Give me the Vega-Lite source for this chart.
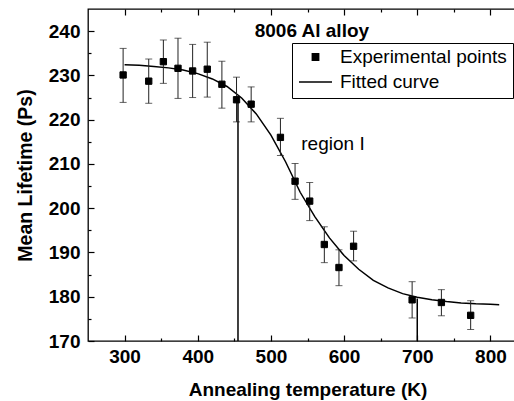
{
  "$schema": "https://vega.github.io/schema/vega-lite/v6.json",
  "width": 439,
  "height": 332,
  "autosize": {"type": "none"},
  "padding": {"left": 88, "top": 9, "right": 0, "bottom": 60},
  "background": "white",
  "config": {
    "font": "Liberation Sans",
    "view": {"stroke": "black", "strokeWidth": 1.3},
    "axis": {"grid": false, "domain": false, "tickColor": "#000000", "labelColor": "black", "titleColor": "black", "labelFont": "Liberation Sans", "titleFont": "Liberation Sans"}
  },
  "datasets": {
    "points": [
      {"T": 298, "tau": 230.1, "lo": 223.9, "hi": 236.1, "series": "Experimental points"},
      {"T": 333, "tau": 228.7, "lo": 223.7, "hi": 233.7, "series": "Experimental points"},
      {"T": 353, "tau": 233.1, "lo": 228.2, "hi": 238.0, "series": "Experimental points"},
      {"T": 373, "tau": 231.6, "lo": 224.8, "hi": 238.4, "series": "Experimental points"},
      {"T": 393, "tau": 231.0, "lo": 225.0, "hi": 237.0, "series": "Experimental points"},
      {"T": 413, "tau": 231.4, "lo": 225.1, "hi": 237.5, "series": "Experimental points"},
      {"T": 433, "tau": 228.0, "lo": 222.6, "hi": 233.2, "series": "Experimental points"},
      {"T": 453, "tau": 224.5, "lo": 219.5, "hi": 229.6, "series": "Experimental points"},
      {"T": 473, "tau": 223.5, "lo": 219.5, "hi": 227.4, "series": "Experimental points"},
      {"T": 513, "tau": 216.0, "lo": 211.9, "hi": 220.3, "series": "Experimental points"},
      {"T": 533, "tau": 206.1, "lo": 202.0, "hi": 210.1, "series": "Experimental points"},
      {"T": 553, "tau": 201.6, "lo": 197.2, "hi": 205.8, "series": "Experimental points"},
      {"T": 573, "tau": 191.8, "lo": 187.7, "hi": 195.8, "series": "Experimental points"},
      {"T": 593, "tau": 186.6, "lo": 182.5, "hi": 190.6, "series": "Experimental points"},
      {"T": 613, "tau": 191.4, "lo": 188.1, "hi": 194.8, "series": "Experimental points"},
      {"T": 693, "tau": 179.3, "lo": 175.2, "hi": 183.4, "series": "Experimental points"},
      {"T": 733, "tau": 178.7, "lo": 175.7, "hi": 181.6, "series": "Experimental points"},
      {"T": 773, "tau": 175.8, "lo": 172.6, "hi": 179.1, "series": "Experimental points"}
    ],
    "curve": [
      {"T": 300, "tau": 232.4}, {"T": 320, "tau": 232.3}, {"T": 340, "tau": 232.0},
      {"T": 360, "tau": 231.7}, {"T": 380, "tau": 231.2}, {"T": 400, "tau": 230.4},
      {"T": 420, "tau": 229.2}, {"T": 440, "tau": 227.5}, {"T": 460, "tau": 224.9},
      {"T": 480, "tau": 221.3}, {"T": 500, "tau": 216.5}, {"T": 520, "tau": 210.5},
      {"T": 540, "tau": 203.6}, {"T": 560, "tau": 198.1}, {"T": 580, "tau": 193.3},
      {"T": 600, "tau": 189.3}, {"T": 620, "tau": 186.2}, {"T": 640, "tau": 183.7},
      {"T": 660, "tau": 182.0}, {"T": 680, "tau": 180.7}, {"T": 700, "tau": 179.9},
      {"T": 720, "tau": 179.3}, {"T": 740, "tau": 178.9}, {"T": 760, "tau": 178.6},
      {"T": 780, "tau": 178.4}, {"T": 800, "tau": 178.3}, {"T": 812, "tau": 178.2}
    ],
    "marks": [
      {"T": 455, "y1": 170, "y2": 224.8},
      {"T": 700, "y1": 170, "y2": 179.6}
    ],
    "notes": [
      {"T": 556, "tau": 240, "label": "8006 Al alloy", "kind": "title"},
      {"T": 541.5, "tau": 214.5, "label": "region I", "kind": "region"}
    ]
  },
  "resolve": {"axis": {"x": "independent", "y": "independent"}},
  "layer": [
    {
      "data": {"name": "curve"},
      "mark": {"type": "line", "color": "black", "strokeWidth": 1.5},
      "encoding": {
        "x": {"field": "T", "type": "quantitative", "scale": {"domain": [250, 850], "nice": false, "zero": false},
          "axis": {"orient": "bottom", "offset": -6, "values": [300, 400, 500, 600, 700, 800], "ticks": true, "tickSize": 6, "tickWidth": 1.2, "labelPadding": 6, "labelFontSize": 19, "labelFontWeight": "bold", "title": "Annealing temperature (K)", "titleFontSize": 19, "titleFontWeight": "bold", "titlePadding": 14}},
        "y": {"field": "tau", "type": "quantitative", "scale": {"domain": [170, 245], "nice": false, "zero": false},
          "axis": {"orient": "left", "offset": -6, "values": [170, 180, 190, 200, 210, 220, 230, 240], "ticks": true, "tickSize": 6, "tickWidth": 1.2, "labelPadding": 8, "labelFontSize": 19, "labelFontWeight": "bold", "title": "Mean Lifetime (Ps)", "titleFontSize": 19.5, "titleFontWeight": "bold", "titlePadding": 13}}
      }
    },
    {
      "data": {"name": "points"},
      "mark": {"type": "rule", "color": "#222", "strokeWidth": 1},
      "encoding": {
        "x": {"field": "T", "type": "quantitative", "axis": {"orient": "bottom", "offset": -3, "values": [350, 450, 550, 650, 750], "ticks": true, "tickSize": 3, "tickWidth": 1.2, "labels": false, "title": null}},
        "y": {"field": "lo", "type": "quantitative", "axis": {"orient": "left", "offset": -3, "values": [175, 185, 195, 205, 215, 225, 235], "ticks": true, "tickSize": 3, "tickWidth": 1.2, "labels": false, "title": null}},
        "y2": {"field": "hi"}
      }
    },
    {
      "data": {"name": "points"},
      "mark": {"type": "tick", "orient": "horizontal", "color": "#222", "size": 7, "thickness": 1},
      "encoding": {
        "x": {"field": "T", "type": "quantitative", "axis": {"orient": "top", "offset": -6, "values": [300, 400, 500, 600, 700, 800], "ticks": true, "tickSize": 6, "tickWidth": 1.2, "labels": false, "title": null}},
        "y": {"field": "lo", "type": "quantitative", "axis": null}
      }
    },
    {
      "data": {"name": "points"},
      "mark": {"type": "tick", "orient": "horizontal", "color": "#222", "size": 7, "thickness": 1},
      "encoding": {
        "x": {"field": "T", "type": "quantitative", "axis": {"orient": "top", "offset": -3, "values": [350, 450, 550, 650, 750], "ticks": true, "tickSize": 3, "tickWidth": 1.2, "labels": false, "title": null}},
        "y": {"field": "hi", "type": "quantitative", "axis": null}
      }
    },
    {
      "data": {"name": "marks"},
      "mark": {"type": "rule", "color": "black", "strokeWidth": 1.5},
      "encoding": {
        "x": {"field": "T", "type": "quantitative", "axis": null},
        "y": {"field": "y1", "type": "quantitative", "axis": null},
        "y2": {"field": "y2"}
      }
    },
    {
      "data": {"name": "points"},
      "mark": {"type": "point", "filled": false, "fill": "black", "stroke": "black", "strokeWidth": 1, "opacity": 1},
      "encoding": {
        "x": {"field": "T", "type": "quantitative", "axis": null},
        "y": {"field": "tau", "type": "quantitative", "axis": null},
        "shape": {"field": "series", "type": "nominal",
          "scale": {"domain": ["Experimental points", "Fitted curve"], "range": ["square", "stroke"]},
          "legend": {"orient": "none", "legendX": 204, "legendY": 34, "title": null, "strokeColor": "black", "padding": 6, "labelFontSize": 19, "labelLimit": 400, "labelFont": "Liberation Sans", "labelColor": "black", "labelOffset": 7, "rowPadding": 6, "clipHeight": 16, "symbolStrokeWidth": 1.5, "symbolStrokeColor": "black", "symbolFillColor": "black", "symbolOpacity": 1}},
        "size": {"field": "series", "type": "nominal",
          "scale": {"domain": ["Experimental points", "Fitted curve"], "range": [40, 1089]}}
      }
    },
    {
      "data": {"name": "notes"},
      "transform": [{"filter": "datum.kind === 'title'"}],
      "mark": {"type": "text", "fontSize": 19, "fontWeight": "bold", "align": "center", "baseline": "middle", "color": "black"},
      "encoding": {
        "x": {"field": "T", "type": "quantitative", "axis": null},
        "y": {"field": "tau", "type": "quantitative", "axis": null},
        "text": {"field": "label"}
      }
    },
    {
      "data": {"name": "notes"},
      "transform": [{"filter": "datum.kind === 'region'"}],
      "mark": {"type": "text", "fontSize": 19, "align": "left", "baseline": "middle", "color": "black"},
      "encoding": {
        "x": {"field": "T", "type": "quantitative", "axis": null},
        "y": {"field": "tau", "type": "quantitative", "axis": null},
        "text": {"field": "label"}
      }
    }
  ]
}
